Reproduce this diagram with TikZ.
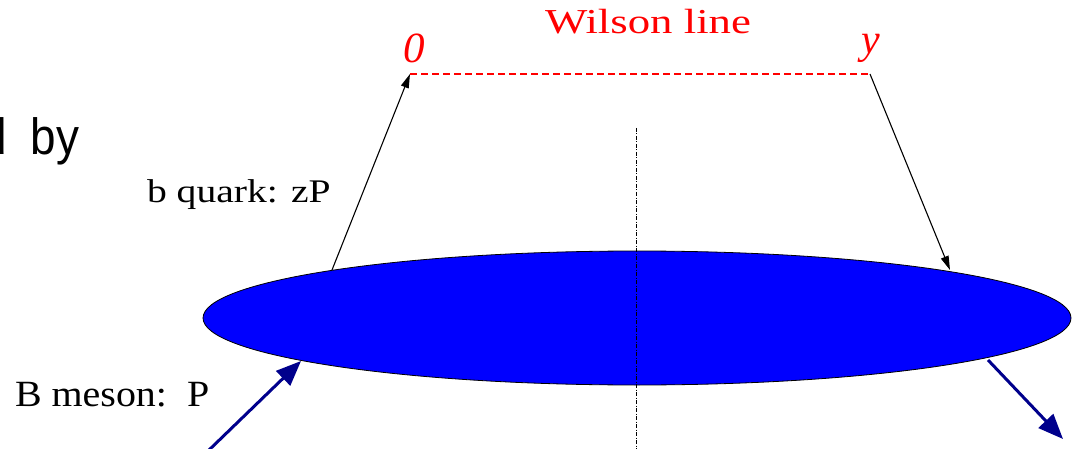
\documentclass[tikz,border=0pt]{standalone}
\usepackage{fontspec}
\setmainfont{Liberation Serif}
\newfontfamily\dbyfont{Liberation Sans}
\usetikzlibrary{arrows.meta,shapes.geometric}
\definecolor{navyarrow}{RGB}{0,0,140}
\definecolor{ellblue}{RGB}{0,0,255}
\definecolor{wred}{RGB}{255,0,0}
\begin{document}
\begin{tikzpicture}[x=1pt,y=-1pt,
  lbl/.style={inner sep=0pt, outer sep=0pt},
  thinarrow/.style={draw=black, line width=1.1pt, -{Triangle[length=14pt,width=8pt]}},
  thickarrow/.style={draw=navyarrow, fill=navyarrow, line width=3pt, -{Triangle[length=25pt,width=20pt]}},
  wilson/.style={draw=wred, line width=1.2pt, dash pattern=on 7pt off 4pt},
  axisline/.style={draw=black, line width=1pt, dash pattern=on 4pt off 1.5pt on 1pt off 1.5pt}
]
\useasboundingbox (0,0) rectangle (1078,449);
\clip (0,0) rectangle (1078,449);

% partially visible slide text
\node[lbl, anchor=base east] (dby) at (79,155) {\scalebox{0.9}[1]{\fontsize{51}{60}\dbyfont d\hspace{12pt} by}};

% meson blob
\node[ellipse, draw=black, line width=0.8pt, fill=ellblue, minimum width=868pt, minimum height=134pt, inner sep=0pt] (meson) at (637,318) {};

% vertical axis
\coordinate (axtop) at (636,128);
\coordinate (axbot) at (636,449);
\draw[axisline] (axtop) -- (axbot);

% Wilson line
\coordinate (w0) at (410,74);
\coordinate (wy) at (870,74);
\draw[wilson] (w0) -- (wy);
\node[lbl, text=wred, anchor=base] (wl) at (648,34) {\scalebox{1.28}[1]{\fontsize{35}{42}\selectfont Wilson line}};
\node[lbl, text=wred] (n0) at (414,48) {\fontsize{43}{50}\selectfont\itshape 0};
\node[lbl, text=wred] (ny) at (871,48) {\fontsize{42}{50}\selectfont\itshape y};

% quark lines
\coordinate (qin) at (332,270);
\coordinate (qout) at (950,270);
\draw[thinarrow] (qin) -- (w0);
\draw[thinarrow] (wy) -- (qout);

% meson lines
\coordinate (bin) at (208,451);
\coordinate (binend) at (301,361);
\coordinate (bout) at (988,360);
\coordinate (boutend) at (1063,439);
\draw[thickarrow] (bin) -- (binend);
\draw[thickarrow] (bout) -- (boutend);

% labels
\node[lbl, anchor=base west] (bq) at (147,203) {\scalebox{1.2}[1]{\fontsize{33}{40}\selectfont b quark: zP}};
\node[lbl, anchor=base west] (bm) at (15,406) {\scalebox{1.08}[1]{\fontsize{37}{44}\selectfont B meson:\ \ P}};
\end{tikzpicture}
\end{document}
